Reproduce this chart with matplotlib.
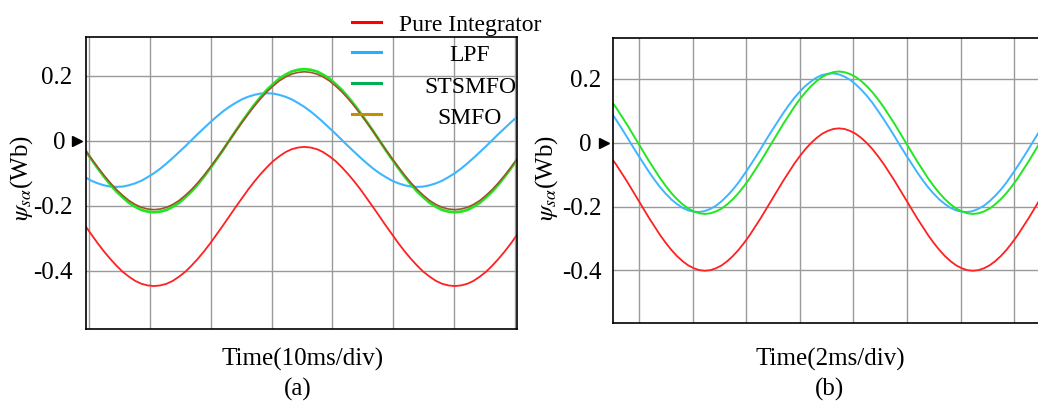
import numpy as np
import matplotlib
matplotlib.use("Agg")
import matplotlib.pyplot as plt
from matplotlib.lines import Line2D
from matplotlib.transforms import offset_copy

plt.rcParams['font.family'] = ['Liberation Serif', 'DejaVu Serif']
plt.rcParams['mathtext.fontset'] = 'stix'

# (a) 10 ms/div, one sample every dt_a divisions starting at t_a0
t_a0, dt_a = -0.1725, 0.103125
pure_a = [-0.233, -0.261, -0.288, -0.315, -0.340, -0.363, -0.384, -0.403, -0.418, -0.431, -0.440, -0.445, -0.447,
          -0.445, -0.440, -0.431, -0.418, -0.403, -0.384, -0.363, -0.340, -0.315, -0.288, -0.261, -0.233,
          -0.205, -0.178, -0.151, -0.126, -0.103, -0.082, -0.063, -0.048, -0.035, -0.026, -0.021, -0.019,
          -0.021, -0.026, -0.035, -0.048, -0.063, -0.082, -0.103, -0.126, -0.151, -0.178, -0.205, -0.233,
          -0.261, -0.288, -0.315, -0.340, -0.363, -0.384, -0.403, -0.418, -0.431, -0.440, -0.445, -0.447,
          -0.445, -0.440, -0.431, -0.418, -0.403, -0.384, -0.363, -0.340, -0.315, -0.288, -0.261, -0.233]
lpf_a = [-0.100, -0.112, -0.123, -0.131, -0.137, -0.141, -0.142,
         -0.141, -0.137, -0.131, -0.123, -0.112, -0.100, -0.086, -0.070, -0.053, -0.035, -0.017, 0.002,
         0.021, 0.039, 0.057, 0.074, 0.090, 0.104, 0.116, 0.127, 0.135, 0.141, 0.145, 0.146,
         0.145, 0.141, 0.135, 0.127, 0.116, 0.104, 0.090, 0.074, 0.057, 0.039, 0.021, 0.002,
         -0.017, -0.035, -0.053, -0.070, -0.086, -0.100, -0.112, -0.123, -0.131, -0.137, -0.141, -0.142,
         -0.141, -0.137, -0.131, -0.123, -0.112, -0.100, -0.086, -0.070, -0.053, -0.035, -0.017, 0.002,
         0.021, 0.039, 0.057, 0.074, 0.090, 0.104]
stsmfo_a = [0.0, -0.029, -0.057, -0.084, -0.110, -0.134, -0.156, -0.174, -0.191, -0.203, -0.213, -0.218, -0.220,
            -0.218, -0.213, -0.203, -0.191, -0.174, -0.156, -0.134, -0.110, -0.084, -0.057, -0.029, 0.0,
            0.029, 0.057, 0.084, 0.110, 0.134, 0.156, 0.174, 0.191, 0.203, 0.213, 0.218, 0.220,
            0.218, 0.213, 0.203, 0.191, 0.174, 0.156, 0.134, 0.110, 0.084, 0.057, 0.029, 0.0,
            -0.029, -0.057, -0.084, -0.110, -0.134, -0.156, -0.174, -0.191, -0.203, -0.213, -0.218, -0.220,
            -0.218, -0.213, -0.203, -0.191, -0.174, -0.156, -0.134, -0.110, -0.084, -0.057, -0.029, 0.0]
smfo_a = [0.0, -0.028, -0.055, -0.081, -0.106, -0.129, -0.150, -0.168, -0.184, -0.196, -0.205, -0.210, -0.212,
          -0.210, -0.205, -0.196, -0.184, -0.168, -0.150, -0.129, -0.106, -0.081, -0.055, -0.028, 0.0,
          0.028, 0.055, 0.081, 0.106, 0.129, 0.150, 0.168, 0.184, 0.196, 0.205, 0.210, 0.212,
          0.210, 0.205, 0.196, 0.184, 0.168, 0.150, 0.129, 0.106, 0.081, 0.055, 0.028, 0.0,
          -0.028, -0.055, -0.081, -0.106, -0.129, -0.150, -0.168, -0.184, -0.196, -0.205, -0.210, -0.212,
          -0.210, -0.205, -0.196, -0.184, -0.168, -0.150, -0.129, -0.106, -0.081, -0.055, -0.028, 0.0]

# (b) 2 ms/div
t_b0, dt_b = -0.644, 0.104167
pure_b = [-0.020, -0.042, -0.066, -0.093, -0.120, -0.149, -0.178,
          -0.207, -0.236, -0.263, -0.290, -0.314, -0.336, -0.355, -0.371, -0.384, -0.393, -0.399, -0.401,
          -0.399, -0.393, -0.384, -0.371, -0.355, -0.336, -0.314, -0.290, -0.263, -0.236, -0.207, -0.178,
          -0.149, -0.120, -0.093, -0.066, -0.042, -0.020, -0.001, 0.015, 0.028, 0.037, 0.043, 0.045,
          0.043, 0.037, 0.028, 0.015, -0.001, -0.020, -0.042, -0.066, -0.093, -0.120, -0.149, -0.178,
          -0.207, -0.236, -0.263, -0.290, -0.314, -0.336, -0.355, -0.371, -0.384, -0.393, -0.399, -0.401,
          -0.399, -0.393, -0.384, -0.371, -0.355, -0.336, -0.314, -0.290, -0.263, -0.236, -0.207, -0.178,
          -0.149, -0.120]
lpf_b = [0.125, 0.100, 0.074, 0.047, 0.019, -0.010, -0.038, -0.065, -0.092, -0.117, -0.140, -0.160,
         -0.178, -0.192, -0.204, -0.212, -0.216, -0.217, -0.214, -0.207, -0.197, -0.183, -0.166, -0.147,
         -0.125, -0.100, -0.074, -0.047, -0.019, 0.010, 0.038, 0.065, 0.092, 0.117, 0.140, 0.160,
         0.178, 0.192, 0.204, 0.212, 0.216, 0.217, 0.214, 0.207, 0.197, 0.183, 0.166, 0.147,
         0.125, 0.100, 0.074, 0.047, 0.019, -0.010, -0.038, -0.065, -0.092, -0.117, -0.140, -0.160,
         -0.178, -0.192, -0.204, -0.212, -0.216, -0.217, -0.214, -0.207, -0.197, -0.183, -0.166, -0.147,
         -0.125, -0.100, -0.074, -0.047, -0.019, 0.010, 0.038, 0.065, 0.092]
stsmfo_b = [0.158, 0.136, 0.112, 0.085, 0.058, 0.029, 0.0,
            -0.029, -0.058, -0.085, -0.112, -0.136, -0.158, -0.177, -0.193, -0.206, -0.215, -0.221, -0.223,
            -0.221, -0.215, -0.206, -0.193, -0.177, -0.158, -0.136, -0.112, -0.085, -0.058, -0.029, 0.0,
            0.029, 0.058, 0.085, 0.112, 0.136, 0.158, 0.177, 0.193, 0.206, 0.215, 0.221, 0.223,
            0.221, 0.215, 0.206, 0.193, 0.177, 0.158, 0.136, 0.112, 0.085, 0.058, 0.029, 0.0,
            -0.029, -0.058, -0.085, -0.112, -0.136, -0.158, -0.177, -0.193, -0.206, -0.215, -0.221, -0.223,
            -0.221, -0.215, -0.206, -0.193, -0.177, -0.158, -0.136, -0.112, -0.085, -0.058, -0.029, 0.0,
            0.029, 0.058]

labels = ['Pure Integrator', 'LPF', 'STSMFO', 'SMFO']
curve_colors = ['#ff2020', '#3db5ff', '#22e622', '#a0522d']
legend_colors = ['#ff0000', '#1fb0ff', '#00b050', '#bf9000']
yticks = [0.2, 0, -0.2, -0.4]
yticklabels = ['0.2', '', '-0.2', '-0.4']

W, H = 1038, 403
fig = plt.figure(figsize=(W / 100, H / 100), dpi=100)

def box(l, t, r, b):
    return [l / W, 1 - b / H, (r - l) / W, (b - t) / H]

ax1 = fig.add_axes(box(86, 37.3, 517, 329))
ax2 = fig.add_axes(box(612.7, 38.3, 1050, 322.5))

t_a = t_a0 + dt_a * np.arange(len(pure_a))
t_b = t_b0 + dt_b * np.arange(len(pure_b))

ax1.plot(t_a, pure_a, color=curve_colors[0], lw=1.3)
ax1.plot(t_a, lpf_a, color=curve_colors[1], lw=1.5)
ax1.plot(t_a, stsmfo_a, color=curve_colors[2], lw=2.0)
ax1.plot(t_a, smfo_a, color=curve_colors[3], lw=1.2)

ax2.plot(t_b, pure_b, color=curve_colors[0], lw=1.3)
ax2.plot(t_b, lpf_b, color=curve_colors[1], lw=1.4)
ax2.plot(t_b, stsmfo_b, color=curve_colors[2], lw=1.4)

ax1.set_xlim(-0.054, 7.04)
ax1.set_ylim(-0.579, 0.318)
ax2.set_xlim(-0.49, 7.67)
ax2.set_ylim(-0.563, 0.327)

for ax, pad in [(ax1, 9.6), (ax2, 7.9)]:
    ax.set_xticks(range(8))
    ax.set_xticklabels([])
    ax.set_yticks(yticks)
    ax.set_yticklabels(yticklabels)
    ax.tick_params(length=0, labelsize=18, pad=pad)
    ax.grid(True, color='#9a9a9a', lw=1.0)
    for s in ax.spines.values():
        s.set_linewidth(1.2)
        s.set_color('black')
    # "0" label plus the zero-level arrow
    tr = offset_copy(ax.get_yaxis_transform(), fig=fig, x=-21, y=0, units='dots')
    ax.text(0, 0, '0', transform=tr, ha='right', va='center_baseline', fontsize=18)
    tr2 = offset_copy(ax.get_yaxis_transform(), fig=fig, x=-9, y=0, units='dots')
    ax.plot([0], [0], marker='>', color='black', markersize=7, transform=tr2, clip_on=False)

# axis texts
ylab = r'$\psi_{s\alpha}$(Wb)'
fig.text(22 / W, 1 - 178 / H, ylab, rotation=90, ha='center', va='center', fontsize=18)
fig.text(547 / W, 1 - 178 / H, ylab, rotation=90, ha='center', va='center', fontsize=18)
fig.text(303 / W, 1 - 366 / H, 'Time(10ms/div)', ha='center', va='baseline', fontsize=18)
fig.text(830.5 / W, 1 - 366 / H, 'Time(2ms/div)', ha='center', va='baseline', fontsize=18)
fig.text(298 / W, 1 - 396 / H, '(a)', ha='center', va='baseline', fontsize=18)
fig.text(830 / W, 1 - 396 / H, '(b)', ha='center', va='baseline', fontsize=18)

# legend
line_y = [21.7, 51.7, 83.3, 114]
for lab, col, ly in zip(labels, legend_colors, line_y):
    fig.add_artist(Line2D([352 / W, 381 / W], [1 - ly / H, 1 - ly / H], color=col, lw=2.2))
    fig.text(470 / W, 1 - (ly + 9.5) / H, lab, ha='center', va='baseline', fontsize=17)

fig.savefig('out.png', dpi=100)
